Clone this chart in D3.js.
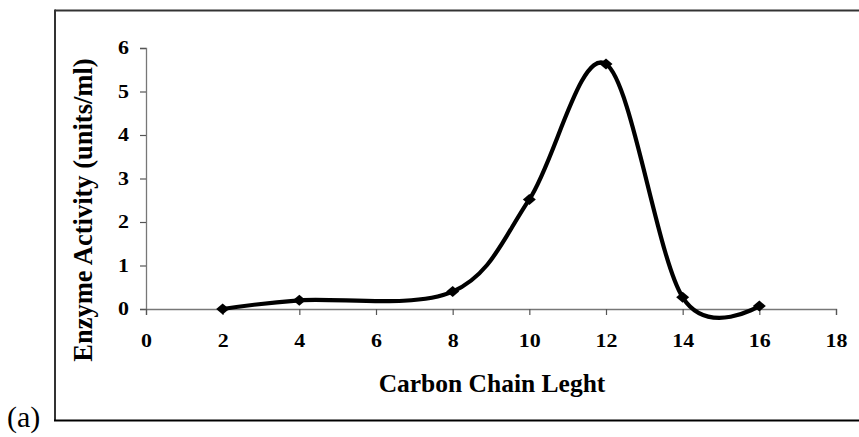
<!DOCTYPE html>
<html>
<head>
<meta charset="utf-8">
<script src="https://cdn.jsdelivr.net/npm/d3@7"></script>
<style>
  html, body { margin: 0; padding: 0; background: #fff; }
  svg { display: block; }
</style>
</head>
<body>
<svg id="chart" width="859" height="437"></svg>
<script>
// Carbon chain length of the substrate vs. measured enzyme activity
const chainLengths = [2, 4, 8, 10, 12, 14, 16];
const activity = [0, 0.2, 0.4, 2.52, 5.63, 0.27, 0.07];
const xTicks = [0, 2, 4, 6, 8, 10, 12, 14, 16, 18];
const yTicks = [0, 1, 2, 3, 4, 5, 6];

const svg = d3.select("#chart");
const font = "'Liberation Serif', 'Times New Roman', serif";

// outer frame
svg.append("line").attr("x1", 55).attr("x2", 859).attr("y1", 10.5).attr("y2", 10.5)
  .attr("stroke", "#333").attr("stroke-width", 2);
svg.append("line").attr("x1", 55).attr("x2", 55).attr("y1", 9.5).attr("y2", 421)
  .attr("stroke", "#333").attr("stroke-width", 2);
svg.append("line").attr("x1", 54).attr("x2", 859).attr("y1", 420.5).attr("y2", 420.5)
  .attr("stroke", "#000").attr("stroke-width", 2);

const x = d3.scaleLinear().domain([0, 18]).range([146, 836]);
const y = d3.scaleLinear().domain([0, 6]).range([309, 48]);

// y axis
const yAxis = svg.append("g").attr("transform", "translate(146,0)")
  .call(d3.axisLeft(y).tickValues(yTicks).tickSize(6).tickPadding(6).tickFormat(d3.format("d")));
// x axis
const xAxis = svg.append("g").attr("transform", "translate(0,309)")
  .call(d3.axisBottom(x).tickValues(xTicks).tickSize(6).tickPadding(14).tickFormat(d3.format("d")));

[yAxis, xAxis].forEach(g => {
  g.select(".domain").attr("stroke", "#777").attr("stroke-width", 1.3);
  g.selectAll(".tick line").attr("stroke", "#555").attr("stroke-width", 1.2);
  g.selectAll(".tick text").attr("fill", "#000")
    .style("font-family", font).style("font-size", "18px").style("font-weight", "bold");
});
// wide bold tick numerals
yAxis.selectAll(".tick text")
  .attr("x", 0).attr("dy", "0.33em")
  .attr("transform", "translate(-17,0) scale(1.22,1)");
xAxis.selectAll(".tick text")
  .attr("y", 0).attr("dy", 0)
  .attr("transform", "translate(0,38) scale(1.22,1)");

// smoothed line through the measurements
const pts = chainLengths.map((c, i) => [c, activity[i]]);
const line = d3.line().x(d => x(d[0])).y(d => y(d[1])).curve(d3.curveCardinal.tension(0));
svg.append("path").datum(pts).attr("d", line)
  .attr("fill", "none").attr("stroke", "#000").attr("stroke-width", 4.2)
  .attr("stroke-linejoin", "round").attr("stroke-linecap", "round");

// diamond markers
svg.append("g").selectAll("path").data(pts).join("path")
  .attr("transform", d => `translate(${x(d[0])},${y(d[1])})`)
  .attr("d", "M0,-5.5L6.5,0L0,5.5L-6.5,0Z")
  .attr("fill", "#000");

// axis titles
svg.append("text").attr("x", 492).attr("y", 392).attr("text-anchor", "middle")
  .style("font-family", font).style("font-size", "25.5px").style("font-weight", "bold")
  .text("Carbon Chain Leght");
svg.append("text").attr("transform", "translate(92,210) rotate(-90)").attr("text-anchor", "middle")
  .style("font-family", font).style("font-size", "26.5px").style("font-weight", "bold")
  .text("Enzyme Activity (units/ml)");

// panel label
svg.append("text").attr("x", 7).attr("y", 427)
  .style("font-family", font).style("font-size", "30px")
  .text("(a)");
</script>
</body>
</html>
